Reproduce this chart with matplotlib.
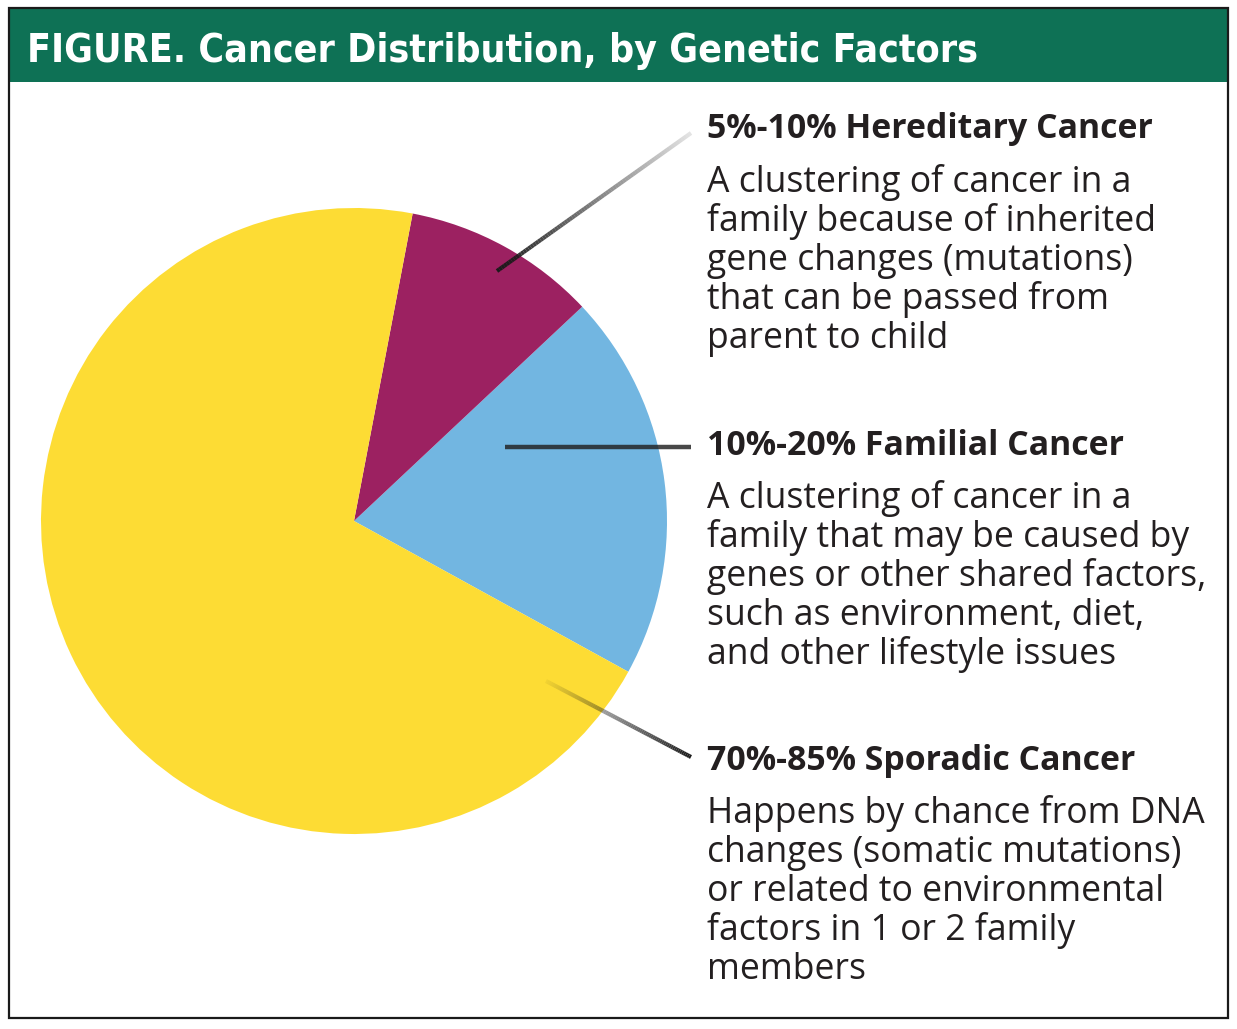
import numpy as np
import matplotlib.pyplot as plt
from matplotlib.collections import LineCollection
from matplotlib.patches import Rectangle

W, H = 1237, 1029

# slice data (drawn counter-clockwise starting from the blue slice)
categories = ['Familial', 'Hereditary', 'Sporadic']
shares = [20, 10, 70]
colors = ['#72b6e1', '#9c2161', '#fddc34']

headings = ['5%-10% Hereditary Cancer',
            '10%-20% Familial Cancer',
            '70%-85% Sporadic Cancer']
descriptions = [
    ['A clustering of cancer in a', 'family because of inherited',
     'gene changes (mutations)', 'that can be passed from', 'parent to child'],
    ['A clustering of cancer in a', 'family that may be caused by',
     'genes or other shared factors,', 'such as environment, diet,',
     'and other lifestyle issues'],
    ['Happens by chance from DNA', 'changes (somatic mutations)',
     'or related to environmental', 'factors in 1 or 2 family', 'members'],
]
title = 'FIGURE. Cancer Distribution, by Genetic Factors'


def Y(y):
    return H - y


def fade_line(ax, p0, p1, a0, a1, color='#1b1b1b', lw=3.0, n=80):
    # line whose opacity goes from a0 at p0 to a1 at p1
    xs = np.linspace(p0[0], p1[0], n + 1)
    ys = np.linspace(Y(p0[1]), Y(p1[1]), n + 1)
    segs = [[(xs[i], ys[i]), (xs[i + 1], ys[i + 1])] for i in range(n)]
    rgb = plt.matplotlib.colors.to_rgb(color)
    alphas = np.linspace(a0, a1, n)
    cols = [(rgb[0], rgb[1], rgb[2], a) for a in alphas]
    ax.add_collection(LineCollection(segs, colors=cols, linewidths=lw,
                                     capstyle='butt', zorder=5))


fig = plt.figure(figsize=(W / 100, H / 100), dpi=100)
ax = fig.add_axes([0, 0, 1, 1])

ax.pie(shares, colors=colors, startangle=-28.8, counterclock=True,
       center=(354, Y(521)), radius=313,
       wedgeprops=dict(linewidth=0))
ax.set_xlim(0, W)
ax.set_ylim(0, H)
ax.set_aspect('equal')
ax.axis('off')

# frame and header band
ax.add_patch(Rectangle((9, Y(82)), 1219, 74, facecolor='#0e7155',
                       edgecolor='none', zorder=1))
ax.add_patch(Rectangle((9, Y(1018)), 1219, 1010, facecolor='none',
                       edgecolor='#1a1a1a', linewidth=1.6, zorder=6))
ax.text(27, Y(62), title, color='white', fontsize=28.1,
        family='DejaVu Sans', fontstretch='condensed', weight='bold',
        va='baseline', ha='left', zorder=7)

# leader lines
fade_line(ax, (497, 271), (691, 133), 1.0, 0.12)
fade_line(ax, (505, 447), (691, 447), 0.82, 0.82, color='#202020', lw=3.2)
fade_line(ax, (546, 681), (691, 757), 0.05, 1.0)

# annotation texts
head_base = [138, 455, 770]
body_base = [192, 508, 823]
step = 39
for head, hb, desc, bb in zip(headings, head_base, descriptions, body_base):
    ax.text(707, Y(hb), head, fontsize=24.4, family='Open Sans', weight='bold',
            color='#231f20', va='baseline', ha='left')
    for i, line in enumerate(desc):
        ax.text(707, Y(bb + i * step), line, fontsize=25.6, family='Open Sans',
                color='#231f20', va='baseline', ha='left')

fig.savefig('out.png', dpi=100, facecolor='white')
